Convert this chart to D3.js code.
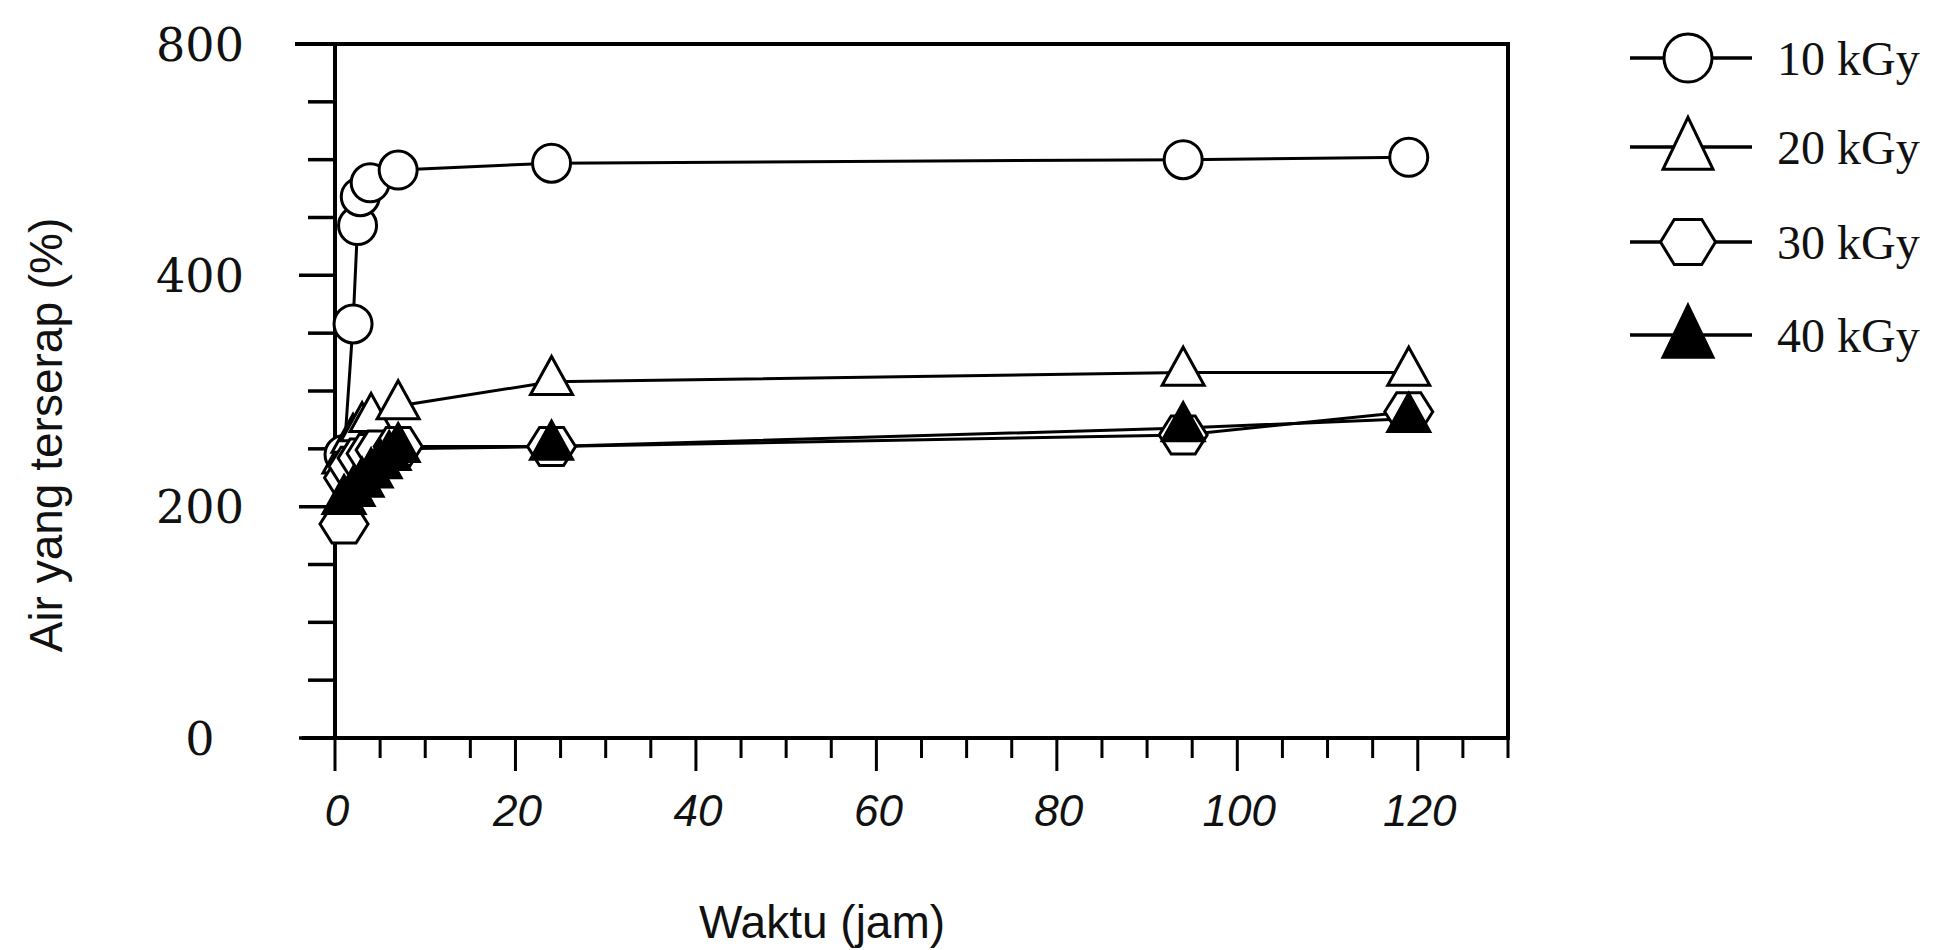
<!DOCTYPE html>
<html>
<head>
<meta charset="utf-8">
<script src="https://cdn.jsdelivr.net/npm/d3@7"></script>
<style>
  html, body { margin: 0; padding: 0; background: #fff; }
  svg { display: block; }
</style>
</head>
<body>
<svg id="chart" width="1935" height="950"></svg>
<script>
// ---- data ----
const seriesNames = ["10 kGy", "20 kGy", "30 kGy", "40 kGy"];
const markerTypes = ["circle", "triangle", "hexagon", "triangleFilled"];

const t10 = [1, 2, 2.5, 2.8, 3.9, 7, 24, 94, 119];
const v10 = [245, 358, 443, 468, 480, 491, 497, 500, 502];

const t20 = [1, 2, 3, 4, 7, 24, 94, 119];
const v20 = [240, 258, 268, 276, 287, 308, 316, 316];

const t30 = [1, 1.5, 2, 3, 4, 5, 7, 24, 94, 119];
const v30 = [185, 225, 235, 242, 246, 249, 252, 252, 262, 282];

const t40 = [1, 2, 3, 4, 5, 6, 7, 24, 94, 119];
const v40 = [205, 212, 220, 228, 236, 243, 250, 252, 268, 276];

const xMajorTicks = [0, 20, 40, 60, 80, 100, 120];
const xMinorTicks = [0,5,10,15,20,25,30,35,40,45,50,55,60,65,70,75,80,85,90,95,100,105,110,115,120,125,130];
const yMajorTicks = [0, 200, 400, 600];
const yTickLabels = ["0", "200", "400", "800"];
const yMinorTicks = [0,50,100,150,200,250,300,350,400,450,500,550,600];

const xTitle = "Waktu (jam)";
const yTitle = "Air yang terserap (%)";

// ---- layout ----
const svg = d3.select("#chart");
const X0 = 335, X1 = 1508, Y0 = 738, Y1 = 44;
const x = d3.scaleLinear().domain([0, 130]).range([X0, X1]);
const y = d3.scaleLinear().domain([0, 600]).range([Y0, Y1]);

const series = [
  {name: seriesNames[0], type: markerTypes[0], data: t10.map((t,i)=>[t, v10[i]])},
  {name: seriesNames[1], type: markerTypes[1], data: t20.map((t,i)=>[t, v20[i]])},
  {name: seriesNames[2], type: markerTypes[2], data: t30.map((t,i)=>[t, v30[i]])},
  {name: seriesNames[3], type: markerTypes[3], data: t40.map((t,i)=>[t, v40[i]])}
];

function triPath(w, h) {
  return `M0,${-h*2/3}L${w/2},${h/3}L${-w/2},${h/3}Z`;
}
function hexPath(w, h) {
  return `M${-w/2},0L${-w/4},${-h/2}L${w/4},${-h/2}L${w/2},0L${w/4},${h/2}L${-w/4},${h/2}Z`;
}
function drawMarker(g, type, cx, cy, big) {
  const sw = 3;
  if (type === "circle") {
    g.append("circle").attr("cx", cx).attr("cy", cy).attr("r", big ? 24 : 19)
      .attr("fill", "#fff").attr("stroke", "#000").attr("stroke-width", sw);
  } else if (type === "triangle" || type === "triangleFilled") {
    g.append("path").attr("transform", `translate(${cx},${cy})`)
      .attr("d", big ? triPath(50, 52) : triPath(42, 38))
      .attr("fill", type === "triangleFilled" ? "#000" : "#fff")
      .attr("stroke", "#000").attr("stroke-width", sw).attr("stroke-linejoin", "miter");
  } else if (type === "hexagon") {
    g.append("path").attr("transform", `translate(${cx},${cy})`)
      .attr("d", big ? hexPath(55, 45) : hexPath(48, 38))
      .attr("fill", "#fff").attr("stroke", "#000").attr("stroke-width", sw);
  }
}

// ---- axes ----
const axG = svg.append("g").attr("stroke", "#000").attr("stroke-linecap", "butt");
axG.append("line").attr("x1", X0 - 40).attr("x2", X1 + 2).attr("y1", y(600)).attr("y2", y(600)).attr("stroke-width", 4);
axG.append("line").attr("x1", X1).attr("x2", X1).attr("y1", y(600)).attr("y2", Y0).attr("stroke-width", 4);
axG.append("line").attr("x1", X0).attr("x2", X0).attr("y1", y(600)).attr("y2", Y0 + 2).attr("stroke-width", 4);
axG.append("line").attr("x1", X0 - 33).attr("x2", X1 + 2).attr("y1", Y0).attr("y2", Y0).attr("stroke-width", 4);

yMinorTicks.forEach(v => {
  const major = yMajorTicks.includes(v);
  axG.append("line").attr("x1", X0).attr("x2", X0 - (major ? 36 : 27))
    .attr("y1", y(v)).attr("y2", y(v)).attr("stroke-width", 3.5);
});
xMinorTicks.forEach(v => {
  const major = xMajorTicks.includes(v);
  axG.append("line").attr("x1", x(v)).attr("x2", x(v))
    .attr("y1", Y0).attr("y2", Y0 + (major ? 33 : 20)).attr("stroke-width", 3);
});

svg.append("g").selectAll("text").data(yMajorTicks).join("text")
  .attr("x", 200).attr("y", d => y(d)).attr("dy", "0.36em")
  .attr("text-anchor", "middle")
  .attr("font-family", "'DejaVu Serif', serif").attr("font-size", 46)
  .attr("fill", "#111")
  .text((d, i) => yTickLabels[i]);

svg.append("g").selectAll("text").data(xMajorTicks).join("text")
  .attr("x", d => x(d) + 2).attr("y", 826)
  .attr("text-anchor", "middle")
  .attr("font-family", "'Liberation Sans', Arial, sans-serif").attr("font-style", "italic")
  .attr("font-size", 44).attr("fill", "#111")
  .text(d => d);

svg.append("text").attr("x", 822).attr("y", 938)
  .attr("text-anchor", "middle")
  .attr("font-family", "'Liberation Sans', Arial, sans-serif").attr("font-size", 46)
  .attr("fill", "#111").text(xTitle);
svg.append("text")
  .attr("transform", "translate(62,435) rotate(-90)")
  .attr("text-anchor", "middle")
  .attr("font-family", "'Liberation Sans', Arial, sans-serif").attr("font-size", 46)
  .attr("fill", "#111").text(yTitle);

// ---- data lines & markers ----
const line = d3.line().x(d => x(d[0])).y(d => y(d[1]));
const plotG = svg.append("g");
series.forEach(s => {
  plotG.append("path").attr("d", line(s.data)).attr("fill", "none")
    .attr("stroke", "#000").attr("stroke-width", 3);
});
series.forEach(s => {
  const g = plotG.append("g");
  s.data.forEach(d => drawMarker(g, s.type, x(d[0]), y(d[1]), false));
});

// ---- legend ----
const legendRowsY = [58, 147, 242, 335];
const lg = svg.append("g");
series.forEach((s, i) => {
  const cy = legendRowsY[i];
  lg.append("line").attr("x1", 1630).attr("x2", 1752).attr("y1", cy).attr("y2", cy)
    .attr("stroke", "#000").attr("stroke-width", 3.5);
  const my = (s.type === "triangle" || s.type === "triangleFilled") ? cy + 5 : cy;
  drawMarker(lg, s.type, 1688, my, true);
  lg.append("text").attr("x", 1777).attr("y", cy + 17)
    .attr("font-family", "'Liberation Serif', 'Times New Roman', serif").attr("font-size", 48)
    .attr("fill", "#111").text(s.name);
});
</script>
</body>
</html>
